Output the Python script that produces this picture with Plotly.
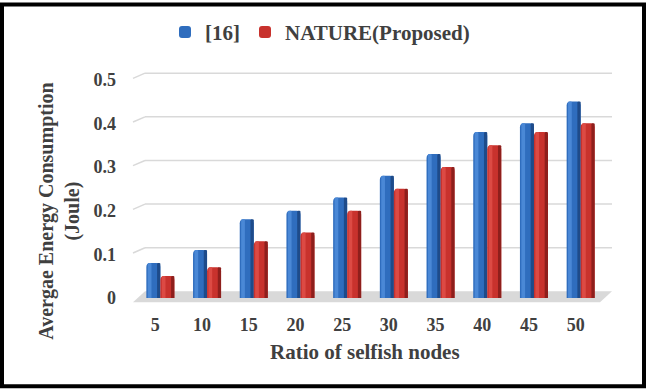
import plotly.graph_objects as go

# ---------------- data ----------------
categories = ["5", "10", "15", "20", "25", "30", "35", "40", "45", "50"]
series_16 = [0.08, 0.11, 0.18, 0.20, 0.23, 0.28, 0.33, 0.38, 0.40, 0.45]
series_nature = [0.05, 0.07, 0.13, 0.15, 0.20, 0.25, 0.30, 0.35, 0.38, 0.40]
y_ticks = [0, 0.1, 0.2, 0.3, 0.4, 0.5]
y_tick_labels = ["0", "0.1", "0.2", "0.3", "0.4", "0.5"]

# ---------------- geometry helpers ----------------
W, H = 646, 389
ML, MR, MT, MB = 137, 42, 69, 85
YMIN, YMAX = -0.014, 0.52
PW = W - ML - MR
PH = H - MT - MB


def px_x(px):
    return (px - ML) / PW


def px_y(py):
    return (H - MB - py) / PH


def val_y(v):
    return (v - YMIN) / (YMAX - YMIN)


FONT = "Liberation Serif, Times New Roman, serif"
TXT = "#404040"
BLUE, BLUE_D, BLUE_L = "#2F6DBE", "#1E4B8A", "#4A88D6"
RED, RED_D, RED_L = "#C8322D", "#8E1F1C", "#DC4A44"

BW = 0.30   # bar width in category units
SW = 0.07   # dark side strip width
HW = 0.08   # light highlight width

fig = go.Figure()

# blue series
fig.add_trace(go.Bar(x=categories, y=series_16, name="[16]", offset=-BW, width=BW,
                     marker=dict(color=BLUE, line=dict(width=0), cornerradius=4)))
fig.add_trace(go.Bar(x=categories, y=series_16, showlegend=False, offset=-BW + 0.03, width=HW,
                     marker=dict(color=BLUE_L, line=dict(width=0), cornerradius=3), hoverinfo="skip"))
fig.add_trace(go.Bar(x=categories, y=series_16, showlegend=False, offset=-SW, width=SW,
                     marker=dict(color=BLUE_D, line=dict(width=0), cornerradius=3), hoverinfo="skip"))
# red series
fig.add_trace(go.Bar(x=categories, y=series_nature, name="NATURE(Proposed)", offset=0, width=BW,
                     marker=dict(color=RED, line=dict(width=0), cornerradius=4)))
fig.add_trace(go.Bar(x=categories, y=series_nature, showlegend=False, offset=0.03, width=HW,
                     marker=dict(color=RED_L, line=dict(width=0), cornerradius=3), hoverinfo="skip"))
fig.add_trace(go.Bar(x=categories, y=series_nature, showlegend=False, offset=BW - SW, width=SW,
                     marker=dict(color=RED_D, line=dict(width=0), cornerradius=3), hoverinfo="skip"))

shapes = []
# floor (perspective parallelogram)
back_off = 0.015
front_low = -0.010
floor_path = "M {x0},{y0} L {x1},{y1} L {x2},{y2} L {x3},{y3} Z".format(
    x0=px_x(133), y0=val_y(front_low),
    x1=px_x(600), y1=val_y(front_low),
    x2=px_x(612), y2=val_y(back_off),
    x3=px_x(145), y3=val_y(back_off))
shapes.append(dict(type="path", path=floor_path, xref="paper", yref="paper",
                   fillcolor="#D9D9D9", line=dict(width=0), layer="below"))
# back-wall gridlines with side-wall diagonal
for v in y_ticks[1:]:
    gy = val_y(v + back_off)
    shapes.append(dict(type="line", xref="paper", yref="paper",
                       x0=px_x(145), x1=px_x(612), y0=gy, y1=gy,
                       line=dict(color="#D9D9D9", width=1.5), layer="below"))
    shapes.append(dict(type="line", xref="paper", yref="paper",
                       x0=px_x(133), x1=px_x(145), y0=val_y(v + back_off - 0.012), y1=gy,
                       line=dict(color="#D9D9D9", width=1.5), layer="below"))
# outer black frame
shapes.append(dict(type="rect", xref="paper", yref="paper",
                   x0=px_x(2), x1=px_x(644), y0=px_y(387), y1=px_y(2),
                   line=dict(color="black", width=4), fillcolor="rgba(0,0,0,0)", layer="above"))

annotations = [
    dict(text="<b>Avergae Energy Consumption<br>(Joule)</b>", textangle=-90,
         xref="paper", yref="paper", x=px_x(60), y=px_y(211),
         xanchor="center", yanchor="middle", showarrow=False,
         font=dict(family=FONT, size=20, color=TXT)),
    dict(text="<b>Ratio of selfish nodes</b>",
         xref="paper", yref="paper", x=px_x(365), y=px_y(352),
         xanchor="center", yanchor="middle", showarrow=False,
         font=dict(family=FONT, size=21, color=TXT)),
]

fig.update_layout(
    width=W, height=H,
    margin=dict(l=ML, r=MR, t=MT, b=MB, pad=0),
    paper_bgcolor="white", plot_bgcolor="white",
    barmode="overlay",
    font=dict(family=FONT, color=TXT),
    shapes=shapes,
    annotations=annotations,
    legend=dict(orientation="h", x=px_x(320), y=px_y(30), xanchor="center", yanchor="middle",
                font=dict(family=FONT, size=21, color=TXT, weight="bold"),
                itemwidth=30, tracegroupgap=0, bgcolor="rgba(0,0,0,0)"),
    xaxis=dict(type="category", range=[-0.5, 9.5], showgrid=False, showline=False,
               zeroline=False, ticks="", ticklabelstandoff=8, ticklabelshift=-5,
               tickfont=dict(family=FONT, size=18, color=TXT, weight="bold")),
    yaxis=dict(range=[YMIN, YMAX], tickvals=y_ticks, ticktext=y_tick_labels,
               showgrid=False, showline=False, zeroline=False, ticks="",
               ticklabelstandoff=20,
               tickfont=dict(family=FONT, size=18, color=TXT, weight="bold")),
    showlegend=True,
)

fig.write_html("out.html",
               config={"displayModeBar": False},
               post_script="document.body.style.margin='0';document.body.style.overflow='hidden';")
